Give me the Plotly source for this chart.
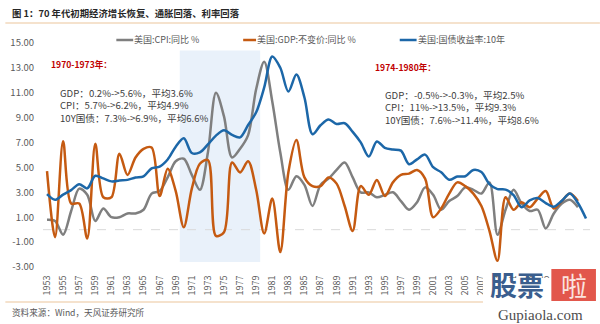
import plotly.graph_objects as go

# Annual data, 1953-2020
years = list(range(1953, 2021))

cpi_yoy = [0.8, 0.7, -0.4, 1.5, 3.3, 2.8, 0.7, 1.7, 1.0, 1.0,
           1.3, 1.3, 1.6, 2.9, 3.1, 4.2, 5.5, 5.7, 4.4, 3.2,
           6.2, 11.0, 9.1, 5.8, 6.5, 7.6, 11.3, 13.5, 10.3, 6.2,
           3.2, 4.3, 3.6, 1.9, 3.6, 4.1, 4.8, 5.4, 4.2, 3.0,
           3.0, 2.6, 2.8, 3.0, 2.3, 1.6, 2.2, 3.4, 2.8, 1.6,
           2.3, 2.7, 3.4, 3.2, 2.9, 3.8, -0.4, 1.6, 3.2, 2.1,
           1.5, 1.6, 0.1, 1.3, 2.1, 2.4, 1.8, None]

gdp_yoy = [4.7, -0.6, 7.1, 2.1, 2.1, -0.7, 6.9, 2.6, 2.6, 6.1,
           4.4, 5.8, 6.5, 6.6, 2.7, 4.9, 3.1, 0.2, 3.3, 5.3,
           5.6, -0.5, -0.2, 5.4, 4.6, 5.5, 3.2, -0.3, 2.5, -1.8,
           4.6, 7.2, 4.2, 3.5, 3.5, 4.2, 3.7, 1.9, -0.1, 3.5,
           2.8, 4.0, 2.7, 3.8, 4.4, 4.5, 4.8, 4.1, 1.0, 1.7,
           2.9, 3.8, 3.5, 2.9, 1.9, -0.1, -2.5, 2.6, 1.6, 2.2,
           1.8, 2.5, 3.1, 1.7, 2.3, 2.9, 2.3, None]

ust10y = [2.85, 2.40, 2.82, 3.18, 3.65, 3.32, 4.33, 4.12, 3.88, 3.95,
          4.00, 4.19, 4.28, 4.93, 5.07, 5.64, 6.67, 7.35, 6.16, 6.21,
          6.85, 7.56, 7.99, 7.61, 7.42, 8.41, 9.43, 11.43, 13.92, 13.01,
          11.10, 12.46, 10.62, 7.67, 8.39, 8.85, 8.49, 8.55, 7.86, 7.01,
          5.87, 7.09, 6.57, 6.44, 6.35, 5.26, 5.65, 6.03, 5.02, 4.61,
          4.01, 4.27, 4.29, 4.80, 4.63, 3.66, 3.26, 3.22, 2.78, 1.80,
          2.35, 2.54, 2.14, 1.84, 2.33, 2.91, 2.14, 0.89]

series_names = ["美国:CPI:同比 %", "美国:GDP:不变价:同比 %", "美国:国债收益率:10年"]
series_colors = ["#7f7f7f", "#c55a11", "#1c67a8"]

y_ticks = list(range(-3, 16, 2))
x_ticks = years[::2]

# highlighted period (1970-1979)
band_years = (1970, 1979)
band_values = (-2.6, 14.4)

W, H = 600, 324
ML, MR, MT, MB = 38, 10, 43, 57
PW, PH = W - ML - MR, H - MT - MB
FONT = "Noto Sans CJK SC"


def px(x):
    return (x - ML) / PW


def py(y):
    return (H - MB - y) / PH


fig = go.Figure()

for vals, name, color in zip([cpi_yoy, gdp_yoy, ust10y], series_names, series_colors):
    fig.add_trace(go.Scatter(
        x=years, y=vals, name=name, mode="lines",
        line=dict(color=color, width=2.5, shape="spline", smoothing=0.9),
        showlegend=False, connectgaps=False,
    ))

shapes = [
    dict(type="rect", xref="x", yref="y",
         x0=band_years[0] - 0.5, x1=band_years[1] + 0.5,
         y0=band_values[0], y1=band_values[1],
         fillcolor="#e9f1fa", line=dict(width=0), layer="below"),
    dict(type="line", xref="x", yref="y", x0=1952.5, x1=2020.5, y0=0, y1=0,
         line=dict(color="#dadada", width=1, dash="dash"), layer="below"),
    # rules under the title and above the source note
    dict(type="line", xref="paper", yref="paper", x0=px(0), x1=px(600), y0=py(23), y1=py(23),
         line=dict(color="#f2d8bd", width=1.5)),
    dict(type="line", xref="paper", yref="paper", x0=px(0), x1=px(600), y0=py(302), y1=py(302),
         line=dict(color="#f2d8bd", width=1.5)),
]

# legend keys
legend_items = [(112, 129, 130), (240, 253, 254), (398, 415, 416)]
annotations = []
for (x0, x1, xt), name, color in zip(legend_items, series_names, series_colors):
    shapes.append(dict(type="line", xref="paper", yref="paper",
                       x0=px(x0), x1=px(x1), y0=py(40), y1=py(40),
                       line=dict(color=color, width=2.5)))
    annotations.append(dict(xref="paper", yref="paper", x=px(xt - 2), y=py(40),
                            xanchor="left", yanchor="middle", showarrow=False,
                            text=name, font=dict(family=FONT, size=9, color="#595959")))


def note(x, y, text, size=9.6, color="#404040", bold=False, yanchor="middle"):
    if bold:
        text = "<b>" + text + "</b>"
    annotations.append(dict(xref="paper", yref="paper", x=px(x), y=py(y),
                            xanchor="left", yanchor=yanchor, showarrow=False, align="left",
                            text=text, font=dict(family=FONT, size=size, color=color)))


note(5, 13, "图 1：70 年代初期经济增长恢复、通胀回落、利率回落", size=9.4, color="#262626", bold=True)
note(5, 312, "资料来源：Wind，天风证券研究所", size=8.6, color="#595959")

note(44, 64, "1970-1973年：", size=8.6, color="#c00000", bold=True)
note(53, 84, "GDP：0.2%->5.6%，平均3.6%<br>CPI：5.7%->6.2%，平均4.9%<br>10Y国债：7.3%->6.9%，平均6.6%",
     yanchor="top")

note(371, 67, "1974-1980年：", size=8.6, color="#c00000", bold=True)
note(381, 86, "GDP：-0.5%->-0.3%，平均2.5%<br>CPI：11%->13.5%，平均9.3%<br>10Y国债：7.6%->11.4%，平均8.6%",
     yanchor="top")

# site mark in the lower right corner
shapes.append(dict(type="rect", xref="paper", yref="paper",
                   x0=px(482), x1=px(600), y0=py(324), y1=py(278),
                   fillcolor="white", line=dict(width=0)))
shapes.append(dict(type="rect", xref="paper", yref="paper",
                   x0=px(551), x1=px(596), y0=py(301), y1=py(269),
                   fillcolor="#e2574c", line=dict(width=0)))
annotations.append(dict(xref="paper", yref="paper", x=px(516), y=py(284),
                        xanchor="center", yanchor="middle", showarrow=False,
                        text="<b>股票</b>", font=dict(family=FONT, size=27, color="#3a5e8e")))
annotations.append(dict(xref="paper", yref="paper", x=px(573.5), y=py(284),
                        xanchor="center", yanchor="middle", showarrow=False,
                        text="啦", font=dict(family=FONT, size=26, color="#fbe3df")))
annotations.append(dict(xref="paper", yref="paper", x=px(540), y=py(314.5),
                        xanchor="center", yanchor="middle", showarrow=False,
                        text="Gupiaola.com", font=dict(family="Liberation Serif", size=15, color="#4d4d4d")))

fig.update_layout(
    width=W, height=H,
    margin=dict(l=ML, r=MR, t=MT, b=MB, pad=0),
    paper_bgcolor="white", plot_bgcolor="white",
    font=dict(family=FONT, size=9, color="#595959"),
    shapes=shapes, annotations=annotations,
    xaxis=dict(range=[1952.5, 2020.5], tickmode="array", tickvals=x_ticks,
               ticktext=[str(v) for v in x_ticks], tickangle=-90,
               tickfont=dict(family=FONT, size=9, color="#595959"),
               showgrid=False, zeroline=False, showline=False,
               ticks="outside", ticklen=4, tickcolor="rgba(0,0,0,0)"),
    yaxis=dict(range=[-3, 15], tickmode="array", tickvals=y_ticks,
               ticktext=[f"{v:.2f}" for v in y_ticks],
               tickfont=dict(family=FONT, size=9.5, color="#595959"),
               showgrid=False, zeroline=False, showline=False,
               ticks="outside", ticklen=6, tickcolor="rgba(0,0,0,0)"),
)

fig.write_html("out.html")
